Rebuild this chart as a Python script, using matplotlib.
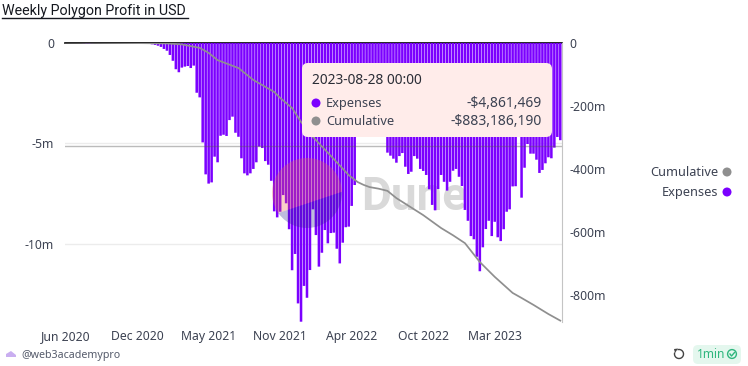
import matplotlib
matplotlib.use('Agg')
import matplotlib.pyplot as plt
from matplotlib.patches import Circle, FancyBboxPatch, Polygon, Arc, PathPatch
from matplotlib.lines import Line2D
from matplotlib.path import Path

plt.rcParams['font.family'] = ['Noto Sans', 'DejaVu Sans']

W = 748
H = 366

# weekly expenses in millions (written positive, drawn negative)
early = [0, 0, 0, 0, 0, 0.02, 0.03, 0.04, 0.04, 0.03, 0.02, 0, 0, 0, 0, 0,
         0, 0, 0, 0, 0, 0, 0, 0.01, 0.01, 0.02, 0.03, 0.04, 0.06, 0.09, 0.12]
rise = [0.16, 0.22, 0.32, 0.41, 0.62, 0.91, 1.33, 1.48, 1.25, 1.20,
        1.17, 1.27, 1.15, 2.50, 2.73, 4.97, 6.56, 7.02, 6.96, 5.68,
        5.96, 4.64, 4.59, 4.65, 3.86, 3.69, 4.49, 4.69, 5.76, 6.51,
        6.61, 6.51, 6.29, 5.96, 5.18, 5.25, 5.90, 6.08, 6.88, 8.40,
        8.70, 8.42, 7.59, 8.00, 9.29, 11.33, 10.52, 12.98, 13.89, 12.11,
        12.70, 11.32, 8.30, 9.58, 11.15, 10.46, 9.33, 9.99, 9.48, 9.46,
        10.26, 10.99, 9.96, 9.19, 9.16, 8.13, 7.09]
# these end behind the tooltip
hidden = [4.4, 3.9, 3.6, 3.2, 3.4, 3.0, 3.3, 3.6, 3.9, 4.5]
late = [5.48, 5.63, 5.78, 5.98, 5.65, 5.50, 6.18, 6.54, 6.43, 5.65,
        5.78, 6.29, 6.39, 6.59, 7.30, 8.08, 8.35, 7.29, 6.59, 6.93,
        7.37, 6.93, 6.38, 6.29, 6.68, 7.14, 8.33, 8.87, 9.63, 9.79,
        10.66, 11.38, 10.19, 9.28, 8.87, 9.63, 8.92, 9.69, 9.88, 9.29,
        8.42, 8.30, 7.16, 7.15, 4.2, 7.72, 6.23, 5.05, 5.53, 5.53,
        5.83, 6.49, 6.34, 6.01, 5.71, 5.76, 5.23, 4.70, 4.86]
expenses = [-v for v in early + rise + hidden + late]
weeks = list(range(len(expenses)))

# cumulative line (week index, millions)
cum_weeks = [0, 25, 34, 39, 45, 48, 51, 58, 63, 70, 72, 76, 79, 83, 89, 95, 98,
             100, 102, 105, 108, 111, 120, 126, 130, 134, 139, 144, 150, 153, 157, 162, 166]
cum_values = [0, -2, -3, -6, -17, -33, -56, -81, -119, -157, -176, -208, -252,
              -300, -360, -421, -443, -452, -459, -464, -471, -494, -548, -589, -612,
              -637, -697, -744, -795, -811, -833, -862, -883]

x_ticks = [0, 24, 48, 72, 96, 120, 144]
x_labels = ['Jun 2020', 'Dec 2020', 'May 2021', 'Nov 2021', 'Apr 2022', 'Oct 2022', 'Mar 2023']
left_ticks = [0, -5, -10]
left_labels = ['0', '-5m', '-10m']
right_ticks = [0, -200, -400, -600, -800]
right_labels = ['0', '-200m', '-400m', '-600m', '-800m']

PURPLE = '#7b00ff'
GREY = '#8f8f8f'
TEXT = '#3c4252'


def fx(px):
    return px / W


def fy(py):
    return 1 - py / H


def px_points(points):
    return [(fx(a), fy(b)) for a, b in points]


def logo_part(theta1, theta2, color, alpha):
    # one side of the round logo, cut along a chord
    arc = Path.arc(theta1, theta2)
    verts = [(307 + 35 * a, H - 193 + 35 * b) for a, b in arc.vertices]
    codes = list(arc.codes)
    verts.append(verts[0])
    codes.append(Path.CLOSEPOLY)
    return PathPatch(Path(verts, codes), transform=None, fc=color, ec='none', alpha=alpha, zorder=1)


fig = plt.figure(figsize=(W / 100, H / 100), dpi=100, facecolor='white')
ax = fig.add_axes([fx(65), fy(322), (561.5 - 65) / W, (322 - 42.5) / H])
ax.patch.set_alpha(0)

ax.bar(weeks, expenses, width=0.85, color=PURPLE, linewidth=0, zorder=3, snap=False)
ax.axhline(-5, color='#ececec', lw=1, zorder=1)
ax.axhline(-10, color='#ececec', lw=1, zorder=1)
ax.axhline(-5.15, color='#555555', alpha=0.4, lw=1, zorder=4)
ax.set_xlim(-0.2, 166.4)
ax.set_ylim(-13.905, 0)
ax.set_xticks(x_ticks)
ax.set_xticklabels(x_labels)
ax.set_yticks(left_ticks)
ax.set_yticklabels(left_labels)
ax.tick_params(axis='x', length=0, pad=6, labelsize=8.8, labelcolor=TEXT)
ax.tick_params(axis='y', length=0, pad=8, labelsize=8.8, labelcolor=TEXT)
for s in ['left', 'right', 'bottom']:
    ax.spines[s].set_visible(False)
ax.spines['top'].set_color('black')
ax.spines['top'].set_linewidth(1.2)

ax2 = ax.twinx()
ax2.patch.set_alpha(0)
ax2.plot(cum_weeks, cum_values, color=GREY, lw=1.25)
ax2.set_ylim(-887.3, 0)
ax2.set_yticks(right_ticks)
ax2.set_yticklabels(right_labels)
ax2.tick_params(axis='y', length=0, pad=6, labelsize=8.8, labelcolor=TEXT)
for s in ['left', 'top', 'bottom']:
    ax2.spines[s].set_visible(False)
ax2.spines['right'].set_color('#c4c4c4')

# title with its underline
fig.text(fx(2), fy(15), 'Weekly Polygon Profit in USD', family='Roboto', fontsize=10.3, color='#15181f', ha='left', va='baseline')
fig.add_artist(Line2D([fx(2), fx(188)], [fy(17.5), fy(17.5)], color='#15181f', lw=1))

# watermark, text under the bars and logo over them
fig.text(fx(361), fy(210), 'Dune', family='Roboto', fontsize=33, fontweight='bold', color='#d9d9d9', ha='left', va='baseline', zorder=-1)
fig.add_artist(logo_part(2, 215, '#f0604a', 0.3))
fig.add_artist(logo_part(215, 362, '#2a2090', 0.3))

# tooltip
tip = FancyBboxPatch((306, H - 133), 242, 66, boxstyle='round,pad=4,rounding_size=6',
                     transform=None, fc='#ffecea', ec='none', zorder=2)
fig.add_artist(tip)
fig.text(fx(312), fy(84), '2023-08-28 00:00', fontsize=9.9, color='#2a2d36', ha='left', va='baseline', zorder=3)
fig.add_artist(Circle((316, H - 103), 4.5, transform=None, fc=PURPLE, ec='none', zorder=3))
fig.add_artist(Circle((316, H - 121), 4.5, transform=None, fc=GREY, ec='none', zorder=3))
fig.text(fx(326), fy(107), 'Expenses', fontsize=9.2, color=TEXT, ha='left', va='baseline', zorder=3)
fig.text(fx(326), fy(125), 'Cumulative', fontsize=9.2, color=TEXT, ha='left', va='baseline', zorder=3)
fig.text(fx(542), fy(107), '-$4,861,469', fontsize=10, color=TEXT, ha='right', va='baseline', zorder=3)
fig.text(fx(542), fy(125), '-$883,186,190', fontsize=10, color=TEXT, ha='right', va='baseline', zorder=3)

# legend
fig.text(fx(718), fy(176), 'Cumulative', fontsize=9.2, color=TEXT, ha='right', va='baseline')
fig.text(fx(718), fy(196), 'Expenses', fontsize=9.2, color=TEXT, ha='right', va='baseline')
fig.add_artist(Circle((727, H - 172), 4.5, transform=None, fc=GREY, ec='none'))
fig.add_artist(Circle((727, H - 192), 4.5, transform=None, fc=PURPLE, ec='none'))

# footer
fig.add_artist(Polygon(px_points([(6, 354), (11, 351), (16, 355), (16, 357), (6, 357)]),
                       transform=fig.transFigure, fc='#c9aef0', ec='none'))
fig.text(fx(21), fy(358), '@web3academypro', fontsize=7.7, color='#555b6b', ha='left', va='baseline')
fig.add_artist(Arc((679, H - 354), 9, 9, theta1=-200, theta2=110, transform=None, color='#444444', lw=1))
fig.add_artist(Polygon([(674, H - 349), (678, H - 348.5), (675, H - 353)], transform=None, fc='#444444', ec='none'))
badge = FancyBboxPatch((697, H - 360), 40, 11, boxstyle='round,pad=4,rounding_size=5',
                       transform=None, fc='#e4f7ee', ec='none')
fig.add_artist(badge)
fig.text(fx(697), fy(358), '1min', fontsize=8.6, color='#2eb67d', ha='left', va='baseline')
fig.add_artist(Circle((732, H - 354), 4.4, transform=None, fc='none', ec='#2eb67d', lw=1))
fig.add_artist(Line2D([fx(730), fx(731.5), fx(734.5)], [fy(354), fy(356), fy(352.5)], color='#2eb67d', lw=1))

fig.savefig('out.png', dpi=100)
